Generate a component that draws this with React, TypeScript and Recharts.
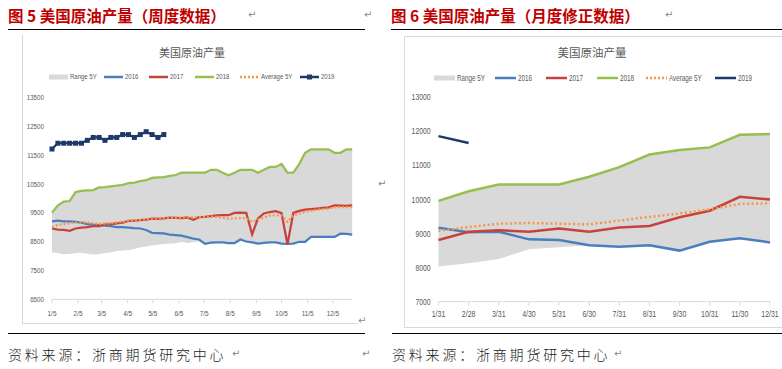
import React from 'react';
import { ComposedChart, Area, Line, XAxis, YAxis } from 'recharts';

// ---- weekly chart (图 5) ----
const weekTickDays = [5, 36, 64, 95, 125, 156, 186, 217, 248, 278, 309, 339];
const weekTickLabels = ['1/5', '2/5', '3/5', '4/5', '5/5', '6/5', '7/5', '8/5', '9/5', '10/5', '11/5', '12/5'];
const weekYTicks = [6500, 7500, 8500, 9500, 10500, 11500, 12500, 13500];

const weekly2016 = [
  9200, 9220, 9200, 9200, 9180, 9150, 9100, 9080, 9070, 9050,
  9030, 9000, 9000, 8980, 8960, 8950, 8900, 8800, 8790, 8780,
  8740, 8720, 8700, 8650, 8600, 8570, 8420, 8460, 8470, 8470,
  8440, 8440, 8570, 8500, 8470, 8430, 8450, 8470, 8470, 8430,
  8420, 8430, 8490, 8490, 8660, 8660, 8660, 8660, 8660, 8770,
  8760, 8740,
];
const weekly2017 = [
  8950, 8910, 8900, 8870, 8950, 8980, 9000, 9030, 9030, 9090,
  9100, 9130, 9150, 9210, 9220, 9240, 9260, 9290, 9280, 9300,
  9330, 9320, 9310, 9330, 9250, 9340, 9350, 9380, 9400, 9410,
  9410, 9490, 9500, 9490, 8750, 9300, 9470, 9520, 9550, 9480,
  8400, 9490, 9560, 9600, 9620, 9640, 9660, 9680, 9750, 9740,
  9730, 9750,
];
const weekly2018 = [
  9500, 9750, 9880, 9900, 10210, 10250, 10270, 10280, 10370, 10380,
  10410, 10430, 10460, 10520, 10540, 10590, 10620, 10700, 10720, 10730,
  10770, 10800, 10880, 10880, 10880, 10880, 10880, 10980, 10980, 10880,
  10790, 10880, 10980, 10980, 10980, 10880, 10980, 11080, 11080, 11180,
  10880, 10880, 11180, 11570, 11690, 11690, 11690, 11690, 11570, 11570,
  11690, 11690,
];
const weeklyAvg5Y = [
  9000, 9080, 9100, 9130, 9150, 9170, 9160, 9130, 9110, 9120,
  9130, 9160, 9180, 9220, 9230, 9250, 9270, 9290, 9300, 9300,
  9310, 9320, 9330, 9340, 9330, 9350, 9360, 9360, 9350, 9320,
  9290, 9300, 9310, 9300, 9180, 9260, 9330, 9400, 9410, 9400,
  9180, 9400, 9460, 9530, 9560, 9600, 9620, 9640, 9680, 9690,
  9690, 9690,
];
const weeklyRangeLow = [
  8120, 8100, 8060, 8070, 8100, 8110, 8080, 8050, 8060, 8100,
  8130, 8170, 8190, 8210, 8240, 8300, 8330, 8360, 8390, 8410,
  8430, 8440, 8490, 8450, 8480, 8500, 8420, 8460, 8470, 8470,
  8440, 8440, 8570, 8500, 8470, 8430, 8450, 8470, 8470, 8430,
  8420, 8430, 8490, 8490, 8660, 8660, 8660, 8660, 8660, 8770,
  8760, 8740,
];
const weekly2019 = [
  11700, 11900, 11900, 11900, 11900, 11900, 12000, 12100, 12100, 12000,
  12100, 12100, 12200, 12200, 12100, 12200, 12300, 12200, 12100, 12200,
];

// ---- monthly chart (图 6) ----
const monthLabels = ['1/31', '2/28', '3/31', '4/30', '5/31', '6/30', '7/31', '8/31', '9/30', '10/31', '11/30', '12/31'];
const monthYTicks = [7000, 8000, 9000, 10000, 11000, 12000, 13000];
const monthly2016 = [9170, 9040, 9055, 8830, 8810, 8660, 8610, 8660, 8500, 8760, 8860, 8740];
const monthly2017 = [8810, 9055, 9100, 9055, 9150, 9055, 9180, 9220, 9480, 9670, 10080, 10000];
const monthly2018 = [9960, 10240, 10440, 10440, 10440, 10670, 10950, 11320, 11450, 11530, 11900, 11920];
const monthlyAvg5Y = [9080, 9190, 9290, 9310, 9290, 9270, 9380, 9490, 9590, 9710, 9870, 9890];
const monthlyRangeLow = [8030, 8130, 8250, 8540, 8600, 8660, 8610, 8660, 8500, 8760, 8860, 8740];
const monthly2019 = [11860, 11660];

const C_RANGE = '#d9d9d9';
const C16 = '#4a7ebf';
const C17 = '#c8423d';
const C18 = '#95bf4f';
const CAVG = '#f79646';
const C19 = '#1f3a68';
const AXIS = '#d9d9d9';
const TXT = '#595959';
const SANS = "'Liberation Sans',Arial,sans-serif";
const CJK = "'Noto Sans CJK SC','Noto Sans',sans-serif";

const weeklyData = weekly2016.map((v, i) => ({
  day: 5 + 7 * i,
  y2016: v,
  y2017: weekly2017[i],
  y2018: weekly2018[i],
  avg: weeklyAvg5Y[i],
  range: [weeklyRangeLow[i], weekly2018[i]],
  y2019: i < weekly2019.length ? weekly2019[i] : null,
}));

const monthlyData = monthLabels.map((m, i) => ({
  month: m,
  y2016: monthly2016[i],
  y2017: monthly2017[i],
  y2018: monthly2018[i],
  avg: monthlyAvg5Y[i],
  range: [monthlyRangeLow[i], monthly2018[i]],
  y2019: i < monthly2019.length ? monthly2019[i] : null,
}));

type Kind = 'range' | 'line' | 'dot' | 'marker';
const legendNames = ['Range 5Y', '2016', '2017', '2018', 'Average 5Y', '2019'];
const legendColors = [C_RANGE, C16, C17, C18, CAVG, C19];
const legendKindsLeft: Kind[] = ['range', 'line', 'line', 'line', 'dot', 'marker'];
const legendKindsRight: Kind[] = ['range', 'line', 'line', 'line', 'dot', 'line'];
// icon start positions (px) for the two legends
const legendXLeft = [49, 104, 149, 195, 240, 300];
const legendXRight = [434, 495, 546, 597, 646, 715];

const LegendRow = ({ xs, kinds, top, fontSize, iconW, squeeze }: any) => (
  <>
    {legendNames.map((name, i) => (
      <div key={name} style={{ position: 'absolute', left: xs[i], top, display: 'flex', alignItems: 'center', fontFamily: SANS, fontSize, color: TXT, whiteSpace: 'nowrap', lineHeight: '10px' }}>
        <svg width={iconW} height={8} style={{ marginRight: 2 }}>
          {kinds[i] === 'range' && <rect x={0} y={1.5} width={iconW} height={5} fill={legendColors[i]} />}
          {kinds[i] !== 'range' && (
            <line x1={0} x2={iconW} y1={4} y2={4} stroke={legendColors[i]} strokeWidth={2.5}
              strokeDasharray={kinds[i] === 'dot' ? '2 2' : undefined} />
          )}
          {kinds[i] === 'marker' && <rect x={iconW / 2 - 2.5} y={1.5} width={5} height={5} fill={legendColors[i]} />}
        </svg>
        <span style={{ display: 'inline-block', transform: `scaleX(${squeeze})`, transformOrigin: 'left center' }}>{name}</span>
      </div>
    ))}
  </>
);

// condensed tick text, like the narrow Office font
const makeTick = (fontSize: number, squeeze: number, dy: string, fmt?: (v: any) => string) => (props: any) => {
  const { x, y, payload, textAnchor } = props;
  const label = fmt ? fmt(payload.value) : String(payload.value);
  return (
    <g transform={`translate(${x},${y})`}>
      <text x={0} y={0} dy={dy} textAnchor={textAnchor} fill={TXT} fontSize={fontSize} fontFamily={SANS} transform={`scale(${squeeze},1)`}>
        {label}
      </text>
    </g>
  );
};

const SquareDot = (props: any) => {
  const { cx, cy, index } = props;
  if (cx == null || cy == null) return <g key={`d${index}`} />;
  return <rect key={`d${index}`} x={cx - 2.5} y={cy - 2.5} width={5} height={5} fill={C19} />;
};

const Mark = ({ x, y }: { x: number; y: number }) => (
  <div style={{ position: 'absolute', left: x, top: y, fontSize: 10, color: '#888', fontFamily: 'DejaVu Sans', lineHeight: '12px' }}>↵</div>
);

const Title = ({ x, text }: { x: number; text: string }) => (
  <div style={{ position: 'absolute', left: x, top: 4, fontFamily: CJK, fontWeight: 700, fontSize: 15.5, color: '#c00000', lineHeight: '22px', whiteSpace: 'pre' }}>{text}</div>
);

const Source = ({ x }: { x: number }) => (
  <div style={{ position: 'absolute', left: x, top: 345, fontFamily: CJK, fontWeight: 300, fontSize: 14, letterSpacing: 2.8, color: '#222', lineHeight: '18px', whiteSpace: 'nowrap' }}>资料来源：浙商期货研究中心</div>
);

export default function App() {
  return (
    <div style={{ position: 'fixed', left: 0, top: 0, width: 782, height: 369, background: '#fff', overflow: 'hidden' }}>
      <Title x={8} text="图 5 美国原油产量（周度数据）" />
      <Title x={391} text="图 6 美国原油产量（月度修正数据）" />
      <Mark x={248} y={9} />
      <Mark x={364} y={9} />
      <Mark x={665} y={9} />
      <div style={{ position: 'absolute', left: 8, top: 29, width: 357, height: 1, background: '#000' }} />
      <div style={{ position: 'absolute', left: 391, top: 29, width: 391, height: 1, background: '#000' }} />

      {/* left chart frame */}
      <div style={{ position: 'absolute', left: 22, top: 35, width: 335, height: 288, borderLeft: `1px solid ${AXIS}`, borderBottom: `1px solid ${AXIS}` }} />
      {/* right chart frame */}
      <div style={{ position: 'absolute', left: 404, top: 36, width: 390, height: 290, border: `1px solid ${AXIS}` }} />

      <div style={{ position: 'absolute', left: 92, top: 45, width: 200, textAlign: 'center', fontFamily: CJK, fontSize: 11, color: TXT, lineHeight: '14px' }}>美国原油产量</div>
      <div style={{ position: 'absolute', left: 492, top: 45, width: 200, textAlign: 'center', fontFamily: CJK, fontSize: 11.5, color: TXT, lineHeight: '14px' }}>美国原油产量</div>

      <LegendRow xs={legendXLeft} kinds={legendKindsLeft} top={72} fontSize={8} iconW={19} squeeze={0.75} />
      <LegendRow xs={legendXRight} kinds={legendKindsRight} top={73} fontSize={8.5} iconW={21} squeeze={0.74} />

      <div style={{ position: 'absolute', left: 0, top: 0 }}>
        <ComposedChart width={370} height={330} data={weeklyData} margin={{ top: 97, right: 17.8, bottom: 6, left: 2 }}>
          <XAxis dataKey="day" type="number" domain={[5, 362]} ticks={weekTickDays}
            height={24.7} stroke={AXIS} tickSize={4} tickMargin={7} interval={0}
            tick={makeTick(8, 0.8, '0.71em', (v: number) => weekTickLabels[weekTickDays.indexOf(v)] ?? '')} />
          <YAxis domain={[6500, 13500]} ticks={weekYTicks} width={50} axisLine={false} tickLine={false} interval={0}
            tick={makeTick(8, 0.78, '0.355em')} />
          <Area type="linear" dataKey="range" fill={C_RANGE} fillOpacity={1} stroke="none" isAnimationActive={false} />
          <Line type="linear" dataKey="y2016" stroke={C16} strokeWidth={2.25} dot={false} isAnimationActive={false} />
          <Line type="linear" dataKey="y2017" stroke={C17} strokeWidth={2.25} dot={false} isAnimationActive={false} />
          <Line type="linear" dataKey="y2018" stroke={C18} strokeWidth={2.25} dot={false} isAnimationActive={false} />
          <Line type="linear" dataKey="avg" stroke={CAVG} strokeWidth={2.25} strokeDasharray="2 2" dot={false} isAnimationActive={false} />
          <Line type="linear" dataKey="y2019" stroke={C19} strokeWidth={2.25} dot={SquareDot} isAnimationActive={false} />
        </ComposedChart>
      </div>

      <div style={{ position: 'absolute', left: 404, top: 36 }}>
        <ComposedChart width={378} height={292} data={monthlyData} margin={{ top: 61.3, right: 12, bottom: 4.3, left: 0.5 }}>
          <XAxis dataKey="month" scale="point" padding={{ left: 0, right: 0 }} height={22} stroke={AXIS}
            tickSize={4} tickMargin={5} interval={0}
            tick={makeTick(8.5, 0.82, '0.71em')} />
          <YAxis domain={[7000, 13000]} ticks={monthYTicks} width={34} axisLine={false} tickLine={false} interval={0}
            tick={makeTick(8.5, 0.8, '0.355em')} />
          <Area type="linear" dataKey="range" fill={C_RANGE} fillOpacity={1} stroke="none" isAnimationActive={false} />
          <Line type="linear" dataKey="y2016" stroke={C16} strokeWidth={2.5} dot={false} isAnimationActive={false} />
          <Line type="linear" dataKey="y2017" stroke={C17} strokeWidth={2.5} dot={false} isAnimationActive={false} />
          <Line type="linear" dataKey="y2018" stroke={C18} strokeWidth={2.5} dot={false} isAnimationActive={false} />
          <Line type="linear" dataKey="avg" stroke={CAVG} strokeWidth={2.5} strokeDasharray="2 2.5" dot={false} isAnimationActive={false} />
          <Line type="linear" dataKey="y2019" stroke={C19} strokeWidth={2.5} dot={false} isAnimationActive={false} />
        </ComposedChart>
      </div>

      <Mark x={378} y={178} />
      <Mark x={358} y={315} />

      <div style={{ position: 'absolute', left: 8, top: 333, width: 357, height: 1, background: '#000' }} />
      <div style={{ position: 'absolute', left: 392, top: 333, width: 390, height: 1, background: '#000' }} />
      <Source x={8} />
      <Source x={392} />
      <Mark x={232} y={348} />
      <Mark x={362} y={348} />
      <Mark x={614} y={348} />
    </div>
  );
}
